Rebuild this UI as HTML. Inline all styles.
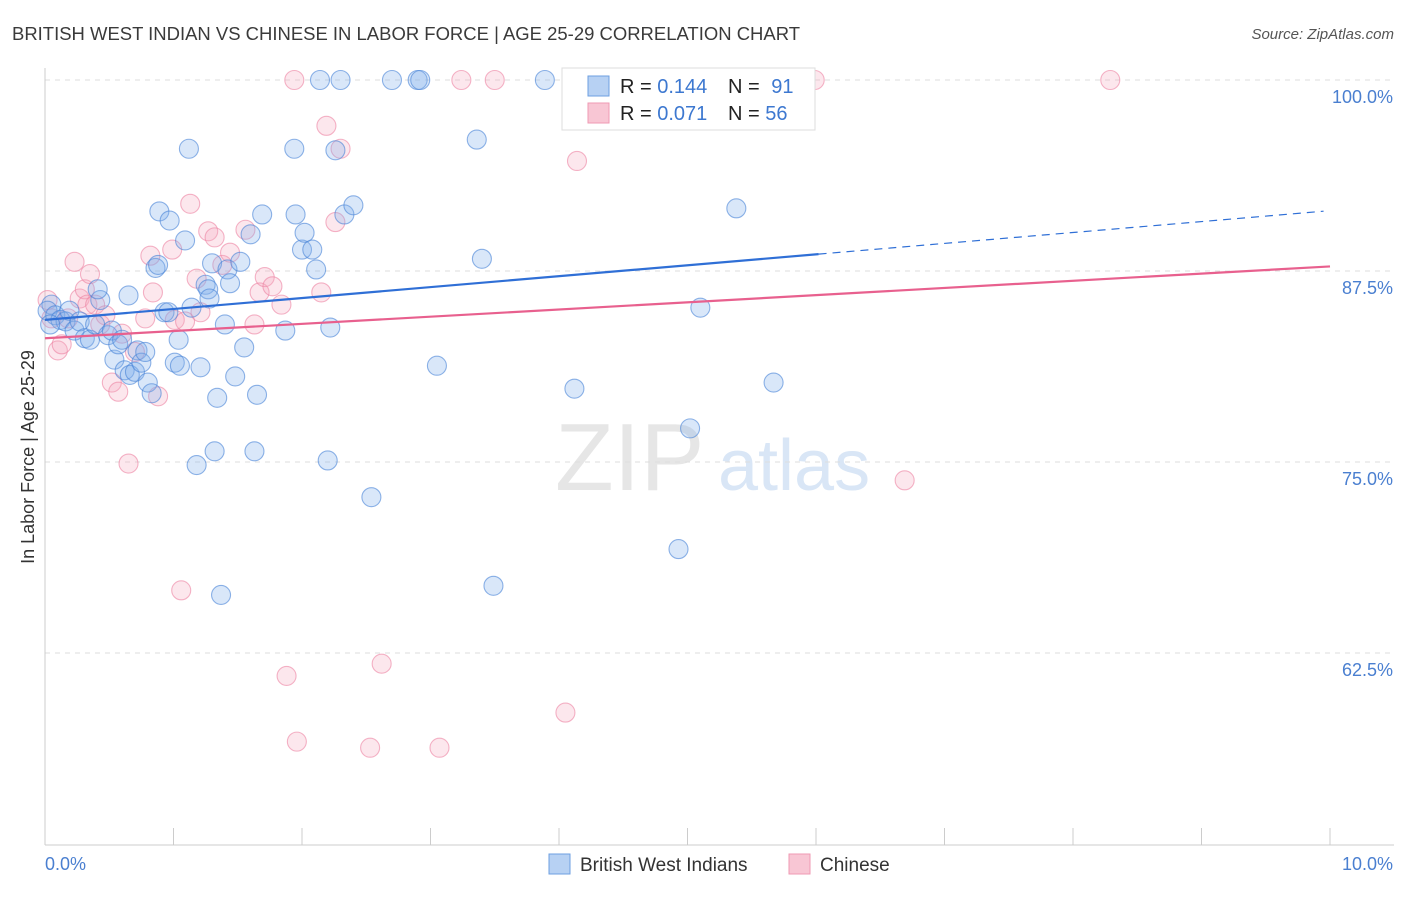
<!DOCTYPE html>
<html><head><meta charset="utf-8"><style>
body{margin:0;background:#fff;font-family:"Liberation Sans",sans-serif;}
svg text{font-family:"Liberation Sans",sans-serif;}
</style></head><body>
<svg id="chart" width="1406" height="892" xmlns="http://www.w3.org/2000/svg">
<text x="12" y="40" font-size="18" fill="#3a3a3a" textLength="788" lengthAdjust="spacingAndGlyphs">BRITISH WEST INDIAN VS CHINESE IN LABOR FORCE | AGE 25-29 CORRELATION CHART</text>
<text x="1394" y="39" font-size="15" fill="#555" text-anchor="end" font-style="italic">Source: ZipAtlas.com</text>
<text x="555" y="490" font-size="96" fill="#e6e6e6" font-family="Liberation Serif">ZIP</text>
<text x="718" y="490" font-size="72" fill="#d9e6f6">atlas</text>
<text transform="translate(34,457) rotate(-90)" font-size="18" fill="#333" text-anchor="middle">In Labor Force | Age 25-29</text>
<g id="grid"></g><g id="ticks"></g><g id="pts"></g><g id="lines"></g>
<g>
<rect x="562" y="68" width="253" height="62" fill="#fff" stroke="#ddd"/>
<rect x="588" y="76" width="21" height="20" fill="#b7d1f3" stroke="#6e9fe0"/>
<rect x="588" y="103" width="21" height="20" fill="#f8c6d4" stroke="#ef9ab3"/>
<text x="620" y="93" font-size="20" fill="#222">R = <tspan fill="#3d78d0">0.144</tspan></text>
<text x="728" y="93" font-size="20" fill="#222">N = <tspan fill="#3d78d0" dx="6">91</tspan></text>
<text x="620" y="120" font-size="20" fill="#222">R = <tspan fill="#3d78d0">0.071</tspan></text>
<text x="728" y="120" font-size="20" fill="#222">N = <tspan fill="#3d78d0">56</tspan></text>
</g>
<g>
<rect x="549" y="854" width="21" height="20" fill="#b7d1f3" stroke="#6e9fe0"/>
<text x="580" y="871" font-size="19" fill="#333">British West Indians</text>
<rect x="789" y="854" width="21" height="20" fill="#f8c6d4" stroke="#ef9ab3"/>
<text x="820" y="871" font-size="19" fill="#333">Chinese</text>
</g>
</svg>
<script>
const xTicks=[0,1,2,3,4,5,6,7,8,9,10];
const yTicks=[100,87.5,75,62.5];
const yTickLabels=["100.0%","87.5%","75.0%","62.5%"];
const blueX=[0.05,0.02,0.08,0.12,0.16,0.04,0.19,0.23,0.27,0.31,0.35,0.39,0.43,0.41,0.49,0.52,0.54,0.57,0.60,0.62,0.65,0.66,0.70,0.72,0.75,0.78,0.80,0.83,0.86,0.88,0.89,0.93,0.96,0.97,1.01,1.04,1.05,1.09,1.12,1.14,1.18,1.21,1.25,1.27,1.28,1.30,1.32,1.34,1.37,1.40,1.42,1.44,1.48,1.52,1.55,1.60,1.63,1.65,1.69,1.87,1.94,1.95,2.00,2.02,2.08,2.11,2.14,2.20,2.22,2.26,2.30,2.33,2.40,2.54,2.70,2.90,2.92,3.05,3.36,3.40,3.49,3.89,4.12,4.93,5.02,5.10,5.30,5.38,5.67];
const blueY=[85.3,84.9,84.6,84.3,84.2,84.0,84.9,83.6,84.2,83.1,83.0,84.0,85.6,86.3,83.3,83.6,81.7,82.7,83.0,81.0,85.9,80.7,80.9,82.3,81.5,82.2,80.2,79.5,87.7,87.9,91.4,84.8,84.8,90.8,81.5,83.0,81.3,89.5,95.5,85.1,74.8,81.2,86.6,86.3,85.7,88.0,75.7,79.2,66.3,84.0,87.6,86.7,80.6,88.1,82.5,89.9,75.7,79.4,91.2,83.6,95.5,91.2,88.9,90.0,88.9,87.6,100,75.1,83.8,95.4,100,91.2,91.8,72.7,100,100,100,81.3,96.1,88.3,66.9,100,79.8,69.3,77.2,85.1,100,91.6,80.2];
const pinkX=[0.02,0.05,0.10,0.13,0.18,0.23,0.27,0.31,0.33,0.35,0.39,0.43,0.47,0.52,0.57,0.60,0.65,0.70,0.78,0.82,0.84,0.88,0.99,1.01,1.06,1.09,1.13,1.18,1.21,1.27,1.32,1.38,1.44,1.56,1.63,1.67,1.71,1.77,1.84,1.88,1.94,1.96,2.15,2.19,2.26,2.30,2.53,2.62,3.07,3.24,3.50,4.05,4.14,5.99,6.69,8.29];
const pinkY=[85.6,84.4,82.3,82.7,84.4,88.1,85.7,86.3,85.3,87.3,85.3,84.0,84.6,80.2,79.6,83.4,74.9,82.2,84.4,88.5,86.1,79.3,88.9,84.3,66.6,84.2,91.9,87.0,84.8,90.1,89.7,87.9,88.7,90.2,84.0,86.1,87.1,86.5,85.3,61.0,100,56.7,86.1,97.0,90.7,95.5,56.3,61.8,56.3,100,100,58.6,94.7,100,73.8,100];
const blueTrend=[84.3,0.715];
const pinkTrend=[83.1,0.47];
const blueSolidEnd=6.02, blueDashEnd=9.95;
const X0=45,X1=1330,Y0=80,YPER=15.28;
const sx=v=>X0+(X1-X0)*v/10;
const sy=v=>Y0+(100-v)*YPER;
const NS="http://www.w3.org/2000/svg";
function mk(tag,attrs,parent){const e=document.createElementNS(NS,tag);for(const k in attrs)e.setAttribute(k,attrs[k]);parent.appendChild(e);return e;}
const grid=document.getElementById('grid'),ticks=document.getElementById('ticks'),pts=document.getElementById('pts'),lines=document.getElementById('lines');
yTicks.forEach((t,i)=>{
 const l=mk('line',{x1:X0,x2:1394,y1:sy(t),y2:sy(t),stroke:'#ddd','stroke-dasharray':'5,5'},grid);
 
 
 const tx=mk('text',{x:1393,y:sy(t)+23,'font-size':18,fill:'#4a7fd0','text-anchor':'end'},ticks);
 tx.textContent=yTickLabels[i];
 
 
});
const ax=mk('line',{x1:X0,x2:X0,y1:68,y2:845,stroke:'#ccc'},grid);


const bx=mk('line',{x1:X0,x2:1394,y1:845,y2:845,stroke:'#ccc'},grid);


xTicks.forEach(t=>{
 const l=mk('line',{x1:sx(t),x2:sx(t),y1:828,y2:845,stroke:'#ccc'},ticks);
 
 
});
[[0,"0.0%","start",45],[10,"10.0%","end",1393]].forEach(a=>{
 const t=mk('text',{x:a[3],y:870,'font-size':18,fill:'#4a7fd0','text-anchor':a[2]},ticks);
 t.textContent=a[1];
 
 
});
pinkX.forEach((x,i)=>{
 const c=mk('circle',{cx:sx(x),cy:sy(pinkY[i]),r:9.5,fill:'rgba(246,168,192,0.28)',stroke:'rgba(236,130,162,0.6)','stroke-width':1.1},pts);
 
 
});
blueX.forEach((x,i)=>{
 const c=mk('circle',{cx:sx(x),cy:sy(blueY[i]),r:9.5,fill:'rgba(130,175,235,0.3)',stroke:'rgba(70,130,215,0.6)','stroke-width':1.1},pts);
 
 
});
const bl=v=>blueTrend[0]+blueTrend[1]*v, pl=v=>pinkTrend[0]+pinkTrend[1]*v;
const l1=mk('line',{x1:sx(0),y1:sy(bl(0)),x2:sx(blueSolidEnd),y2:sy(bl(blueSolidEnd)),stroke:'#2f6fd6','stroke-width':2.2},lines);


const l2=mk('line',{x1:sx(blueSolidEnd),y1:sy(bl(blueSolidEnd)),x2:sx(blueDashEnd),y2:sy(bl(blueDashEnd)),stroke:'#2f6fd6','stroke-width':1.2,'stroke-dasharray':'8,6'},lines);


const l3=mk('line',{x1:sx(0),y1:sy(pl(0)),x2:sx(10),y2:sy(pl(10)),stroke:'#e8608e','stroke-width':2.2},lines);


</script>
</body></html>
